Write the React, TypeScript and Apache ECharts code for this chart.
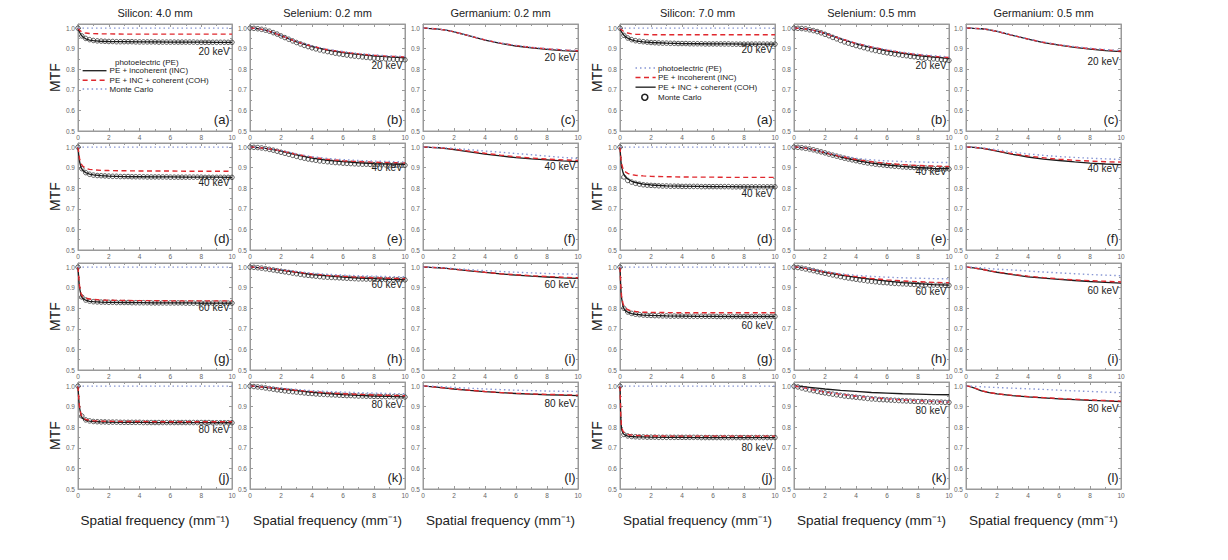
import React, { useEffect, useRef } from "react";
import * as echarts from "echarts";

// ---------- data ----------
const X_LINE = [0, 0.05, 0.1, 0.2, 0.3, 0.5, 0.75, 1, 1.5, 2, 3, 4, 5, 6, 7, 8, 9, 10];
const X_MC = [0, 0.25, 0.5, 0.75, 1, 1.25, 1.5, 1.75, 2, 2.25, 2.5, 2.75, 3, 3.25, 3.5, 3.75, 4, 4.25, 4.5, 4.75, 5, 5.25, 5.5, 5.75, 6, 6.25, 6.5, 6.75, 7, 7.25, 7.5, 7.75, 8, 8.25, 8.5, 8.75, 9, 9.25, 9.5, 9.75, 10];
const FLAT = [1, 1, 1, 1, 1, 1, 1, 1, 1, 1, 1, 1, 1, 1, 1, 1, 1, 1];

const LEFT_TITLES = ["Silicon: 4.0 mm", "Selenium: 0.2 mm", "Germanium: 0.2 mm"];
const RIGHT_TITLES = ["Silicon: 7.0 mm", "Selenium: 0.5 mm", "Germanium: 0.5 mm"];
const ENERGIES = ["20 keV", "40 keV", "60 keV", "80 keV"];
const LETTERS = ["a", "b", "c", "d", "e", "f", "g", "h", "i", "j", "k", "l"];
const Y_TICKS = [0.5, 0.6, 0.7, 0.8, 0.9, 1.0];
const X_TICKS = [0, 2, 4, 6, 8, 10];
const L_EY = [0.885, 0.82, 0.855, 0.83, 0.9, 0.905, 0.805, 0.915, 0.915, 0.79, 0.91, 0.915];
const R_EY = [0.895, 0.82, 0.84, 0.775, 0.88, 0.895, 0.715, 0.88, 0.885, 0.7, 0.88, 0.89];
const LEFT_LEGEND = ["photoelectric (PE)", "PE + incoherent (INC)", "PE + INC + coherent (COH)", "Monte Carlo"];
const RIGHT_LEGEND = ["photoelectric (PE)", "PE + incoherent (INC)", "PE + INC + coherent (COH)", "Monte Carlo"];

// Left group: Silicon 4.0 / Selenium 0.2 / Germanium 0.2
const LA_PE = FLAT;
const LA_INC = [1.0, 0.995, 0.99, 0.984, 0.98, 0.976, 0.974, 0.973, 0.972, 0.972, 0.971, 0.971, 0.971, 0.971, 0.971, 0.971, 0.971, 0.971];
const LA_COH = [1.0, 0.99, 0.98, 0.967, 0.958, 0.948, 0.942, 0.939, 0.936, 0.935, 0.934, 0.933, 0.933, 0.932, 0.932, 0.932, 0.931, 0.931];
const LA_MC = [1.0, 0.962, 0.95, 0.944, 0.94, 0.938, 0.937, 0.936, 0.935, 0.935, 0.934, 0.934, 0.934, 0.934, 0.934, 0.933, 0.933, 0.933, 0.933, 0.933, 0.933, 0.932, 0.932, 0.932, 0.932, 0.932, 0.932, 0.932, 0.932, 0.932, 0.932, 0.931, 0.931, 0.931, 0.931, 0.931, 0.931, 0.931, 0.931, 0.931, 0.931];

const LB_PE = [1.0, 1.0, 1.0, 0.999, 0.999, 0.997, 0.994, 0.99, 0.979, 0.965, 0.935, 0.913, 0.897, 0.886, 0.877, 0.87, 0.865, 0.862];
const LB_INC = [1.0, 1.0, 1.0, 0.999, 0.999, 0.997, 0.994, 0.99, 0.978, 0.964, 0.934, 0.912, 0.895, 0.884, 0.875, 0.868, 0.863, 0.86];
const LB_COH = [1.0, 1.0, 1.0, 0.999, 0.999, 0.997, 0.994, 0.99, 0.978, 0.963, 0.933, 0.91, 0.893, 0.881, 0.872, 0.865, 0.86, 0.856];
const LB_MC = [1.0, 0.999, 0.997, 0.994, 0.99, 0.985, 0.978, 0.971, 0.962, 0.954, 0.946, 0.938, 0.93, 0.923, 0.916, 0.91, 0.904, 0.899, 0.894, 0.89, 0.886, 0.882, 0.878, 0.875, 0.872, 0.869, 0.866, 0.864, 0.862, 0.86, 0.858, 0.856, 0.854, 0.853, 0.852, 0.851, 0.85, 0.849, 0.848, 0.847, 0.846];

const LC_PE = [1.0, 1.0, 1.0, 1.0, 0.999, 0.998, 0.997, 0.995, 0.99, 0.983, 0.963, 0.944, 0.928, 0.916, 0.907, 0.9, 0.895, 0.891];
const LC_INC = [1.0, 1.0, 1.0, 1.0, 0.999, 0.998, 0.997, 0.995, 0.99, 0.982, 0.962, 0.943, 0.927, 0.915, 0.906, 0.899, 0.894, 0.89];
const LC_COH = [1.0, 1.0, 1.0, 1.0, 0.999, 0.998, 0.997, 0.995, 0.99, 0.982, 0.962, 0.942, 0.926, 0.913, 0.904, 0.897, 0.891, 0.887];

const LD_PE = FLAT;
const LD_INC = [1.0, 0.97, 0.945, 0.92, 0.908, 0.897, 0.892, 0.89, 0.887, 0.886, 0.885, 0.884, 0.884, 0.884, 0.883, 0.883, 0.883, 0.883];
const LD_COH = [1.0, 0.96, 0.93, 0.9, 0.888, 0.876, 0.869, 0.865, 0.861, 0.859, 0.857, 0.856, 0.855, 0.855, 0.854, 0.854, 0.854, 0.853];
const LD_MC = [1.0, 0.895, 0.876, 0.868, 0.864, 0.862, 0.861, 0.86, 0.859, 0.858, 0.858, 0.857, 0.857, 0.857, 0.856, 0.856, 0.856, 0.856, 0.855, 0.855, 0.855, 0.855, 0.855, 0.855, 0.854, 0.854, 0.854, 0.854, 0.854, 0.854, 0.854, 0.854, 0.854, 0.853, 0.853, 0.853, 0.853, 0.853, 0.853, 0.853, 0.853];

const LE_PE = [1.0, 1.0, 1.0, 1.0, 0.999, 0.998, 0.996, 0.994, 0.99, 0.983, 0.967, 0.954, 0.945, 0.939, 0.935, 0.932, 0.93, 0.928];
const LE_INC = [1.0, 1.0, 1.0, 1.0, 0.999, 0.998, 0.996, 0.994, 0.989, 0.982, 0.965, 0.951, 0.941, 0.934, 0.93, 0.927, 0.925, 0.923];
const LE_COH = [1.0, 1.0, 1.0, 1.0, 0.999, 0.998, 0.996, 0.994, 0.988, 0.98, 0.962, 0.947, 0.936, 0.929, 0.924, 0.92, 0.918, 0.916];
const LE_MC = [1.0, 0.999, 0.998, 0.996, 0.993, 0.989, 0.985, 0.98, 0.975, 0.97, 0.965, 0.96, 0.955, 0.95, 0.946, 0.942, 0.939, 0.936, 0.933, 0.931, 0.929, 0.927, 0.925, 0.924, 0.922, 0.921, 0.92, 0.919, 0.918, 0.917, 0.917, 0.916, 0.915, 0.915, 0.914, 0.914, 0.913, 0.913, 0.913, 0.912, 0.912];

const LF_PE = [1, 1, 1, 1, 1, 0.999, 0.998, 0.998, 0.996, 0.994, 0.988, 0.981, 0.975, 0.969, 0.963, 0.956, 0.95, 0.945];
const LF_INC = [1, 1, 1, 1, 1, 0.999, 0.998, 0.997, 0.994, 0.99, 0.98, 0.97, 0.961, 0.953, 0.947, 0.942, 0.938, 0.935];
const LF_COH = [1, 1, 1, 1, 1, 0.999, 0.998, 0.997, 0.993, 0.988, 0.977, 0.966, 0.957, 0.949, 0.943, 0.938, 0.933, 0.929];

const LG_PE = FLAT;
const LG_INC = [1.0, 0.95, 0.91, 0.87, 0.858, 0.849, 0.845, 0.843, 0.84, 0.839, 0.838, 0.837, 0.837, 0.836, 0.836, 0.836, 0.836, 0.836];
const LG_COH = [1.0, 0.94, 0.9, 0.86, 0.848, 0.839, 0.834, 0.832, 0.83, 0.829, 0.828, 0.827, 0.826, 0.826, 0.826, 0.825, 0.825, 0.825];
const LG_MC = [1.0, 0.855, 0.84, 0.835, 0.832, 0.831, 0.83, 0.83, 0.829, 0.829, 0.828, 0.828, 0.828, 0.828, 0.827, 0.827, 0.827, 0.827, 0.827, 0.826, 0.826, 0.826, 0.826, 0.826, 0.826, 0.826, 0.826, 0.826, 0.825, 0.825, 0.825, 0.825, 0.825, 0.825, 0.825, 0.825, 0.825, 0.825, 0.825, 0.825, 0.825];

const LH_PE = [1, 1, 1, 1, 0.999, 0.998, 0.997, 0.996, 0.992, 0.988, 0.979, 0.971, 0.965, 0.961, 0.958, 0.956, 0.954, 0.953];
const LH_INC = [1, 1, 1, 1, 0.999, 0.998, 0.997, 0.995, 0.991, 0.986, 0.976, 0.967, 0.96, 0.955, 0.951, 0.948, 0.946, 0.944];
const LH_COH = [1, 1, 1, 1, 0.999, 0.998, 0.997, 0.995, 0.99, 0.985, 0.974, 0.964, 0.957, 0.951, 0.947, 0.944, 0.941, 0.939];
const LH_MC = [1.0, 0.999, 0.997, 0.995, 0.992, 0.989, 0.986, 0.983, 0.98, 0.977, 0.974, 0.971, 0.968, 0.965, 0.962, 0.96, 0.958, 0.956, 0.954, 0.952, 0.951, 0.95, 0.949, 0.948, 0.947, 0.946, 0.945, 0.944, 0.943, 0.943, 0.942, 0.942, 0.941, 0.941, 0.94, 0.94, 0.939, 0.939, 0.939, 0.938, 0.938];

const LI_PE = [1, 1, 1, 1, 1, 0.999, 0.999, 0.998, 0.996, 0.993, 0.988, 0.983, 0.979, 0.975, 0.972, 0.969, 0.967, 0.965];
const LI_INC = [1, 1, 1, 1, 1, 0.999, 0.998, 0.997, 0.994, 0.99, 0.983, 0.975, 0.968, 0.963, 0.958, 0.954, 0.951, 0.948];
const LI_COH = [1, 1, 1, 1, 1, 0.999, 0.998, 0.997, 0.994, 0.99, 0.982, 0.974, 0.967, 0.961, 0.956, 0.952, 0.948, 0.945];

const LJ_PE = FLAT;
const LJ_INC = [1.0, 0.94, 0.9, 0.86, 0.848, 0.838, 0.834, 0.832, 0.83, 0.829, 0.828, 0.828, 0.827, 0.827, 0.827, 0.827, 0.827, 0.827];
const LJ_COH = [1.0, 0.935, 0.895, 0.855, 0.843, 0.834, 0.83, 0.828, 0.826, 0.825, 0.824, 0.824, 0.823, 0.823, 0.823, 0.823, 0.822, 0.822];
const LJ_MC = [1.0, 0.855, 0.836, 0.831, 0.828, 0.827, 0.826, 0.826, 0.825, 0.825, 0.825, 0.824, 0.824, 0.824, 0.824, 0.824, 0.824, 0.823, 0.823, 0.823, 0.823, 0.823, 0.823, 0.823, 0.823, 0.823, 0.823, 0.823, 0.823, 0.823, 0.823, 0.823, 0.823, 0.823, 0.823, 0.822, 0.822, 0.822, 0.822, 0.822, 0.822];

const LK_PE = [1, 1, 1, 1, 0.999, 0.998, 0.997, 0.996, 0.993, 0.99, 0.984, 0.978, 0.974, 0.971, 0.968, 0.966, 0.964, 0.963];
const LK_INC = [1, 1, 1, 1, 0.999, 0.998, 0.996, 0.995, 0.991, 0.987, 0.98, 0.973, 0.967, 0.963, 0.96, 0.957, 0.955, 0.953];
const LK_COH = [1, 1, 1, 1, 0.999, 0.998, 0.996, 0.994, 0.99, 0.986, 0.978, 0.97, 0.964, 0.959, 0.955, 0.952, 0.95, 0.948];
const LK_MC = [1.0, 0.998, 0.996, 0.994, 0.991, 0.988, 0.985, 0.982, 0.98, 0.977, 0.975, 0.973, 0.971, 0.969, 0.967, 0.965, 0.964, 0.962, 0.961, 0.96, 0.959, 0.958, 0.957, 0.956, 0.955, 0.954, 0.954, 0.953, 0.952, 0.952, 0.951, 0.951, 0.95, 0.95, 0.949, 0.949, 0.949, 0.948, 0.948, 0.948, 0.947];

const LL_PE = [1, 1, 1, 1, 1, 0.999, 0.999, 0.998, 0.996, 0.994, 0.99, 0.986, 0.983, 0.98, 0.978, 0.976, 0.975, 0.974];
const LL_INC = [1, 1, 1, 1, 0.999, 0.998, 0.996, 0.994, 0.99, 0.986, 0.98, 0.974, 0.969, 0.965, 0.962, 0.96, 0.958, 0.956];
const LL_COH = [1, 1, 1, 1, 0.999, 0.998, 0.996, 0.994, 0.99, 0.986, 0.979, 0.973, 0.968, 0.964, 0.961, 0.958, 0.956, 0.954];

// Right group: Silicon 7.0 / Selenium 0.5 / Germanium 0.5
const RA_PE = FLAT;
const RA_INC = [1.0, 0.996, 0.992, 0.986, 0.981, 0.976, 0.972, 0.97, 0.969, 0.968, 0.968, 0.968, 0.968, 0.968, 0.968, 0.968, 0.968, 0.968];
const RA_COH = [1.0, 0.99, 0.982, 0.97, 0.962, 0.951, 0.943, 0.938, 0.933, 0.93, 0.927, 0.925, 0.924, 0.923, 0.923, 0.922, 0.922, 0.922];
const RA_MC = [1.0, 0.965, 0.952, 0.944, 0.939, 0.936, 0.934, 0.932, 0.93, 0.929, 0.928, 0.927, 0.927, 0.926, 0.926, 0.925, 0.925, 0.925, 0.924, 0.924, 0.924, 0.924, 0.923, 0.923, 0.923, 0.923, 0.923, 0.923, 0.923, 0.922, 0.922, 0.922, 0.922, 0.922, 0.922, 0.922, 0.922, 0.922, 0.922, 0.922, 0.922];

const RB_PE = [1, 1, 1, 0.999, 0.999, 0.998, 0.996, 0.993, 0.985, 0.975, 0.95, 0.927, 0.909, 0.895, 0.883, 0.873, 0.866, 0.86];
const RB_INC = [1, 1, 1, 0.999, 0.999, 0.998, 0.996, 0.993, 0.985, 0.974, 0.949, 0.926, 0.908, 0.893, 0.881, 0.871, 0.863, 0.857];
const RB_COH = [1, 1, 1, 0.999, 0.999, 0.998, 0.996, 0.993, 0.985, 0.974, 0.948, 0.924, 0.905, 0.89, 0.877, 0.867, 0.859, 0.853];
const RB_MC = [1.0, 0.999, 0.998, 0.996, 0.992, 0.988, 0.983, 0.977, 0.97, 0.963, 0.955, 0.948, 0.94, 0.933, 0.927, 0.921, 0.915, 0.91, 0.905, 0.9, 0.895, 0.891, 0.887, 0.883, 0.88, 0.877, 0.874, 0.871, 0.868, 0.866, 0.863, 0.861, 0.858, 0.856, 0.854, 0.853, 0.851, 0.849, 0.847, 0.845, 0.843];

const RC_PE = [1, 1, 1, 1, 1, 0.999, 0.998, 0.997, 0.992, 0.985, 0.966, 0.948, 0.932, 0.92, 0.91, 0.902, 0.896, 0.891];
const RC_INC = [1, 1, 1, 1, 1, 0.999, 0.998, 0.997, 0.992, 0.984, 0.965, 0.947, 0.931, 0.918, 0.908, 0.9, 0.894, 0.889];
const RC_COH = [1, 1, 1, 1, 1, 0.999, 0.998, 0.997, 0.992, 0.984, 0.965, 0.946, 0.93, 0.917, 0.906, 0.898, 0.891, 0.886];

const RD_PE = FLAT;
const RD_INC = [1.0, 0.95, 0.92, 0.893, 0.882, 0.872, 0.866, 0.863, 0.86, 0.858, 0.856, 0.855, 0.854, 0.854, 0.853, 0.853, 0.853, 0.853];
const RD_COH = [1.0, 0.94, 0.905, 0.875, 0.86, 0.845, 0.834, 0.828, 0.82, 0.816, 0.812, 0.81, 0.809, 0.808, 0.808, 0.807, 0.807, 0.807];
const RD_MC = [1.0, 0.855, 0.838, 0.83, 0.824, 0.82, 0.817, 0.815, 0.814, 0.813, 0.812, 0.811, 0.811, 0.81, 0.81, 0.81, 0.809, 0.809, 0.809, 0.809, 0.809, 0.808, 0.808, 0.808, 0.808, 0.808, 0.808, 0.808, 0.808, 0.807, 0.807, 0.807, 0.807, 0.807, 0.807, 0.807, 0.807, 0.807, 0.807, 0.807, 0.807];

const RE_PE = [1, 1, 1, 1, 0.999, 0.998, 0.995, 0.992, 0.984, 0.975, 0.958, 0.946, 0.938, 0.933, 0.93, 0.928, 0.926, 0.925];
const RE_INC = [1, 1, 1, 1, 0.999, 0.998, 0.995, 0.992, 0.983, 0.973, 0.955, 0.94, 0.929, 0.921, 0.915, 0.911, 0.908, 0.906];
const RE_COH = [1, 1, 1, 1, 0.999, 0.998, 0.995, 0.992, 0.983, 0.972, 0.952, 0.935, 0.922, 0.913, 0.906, 0.901, 0.897, 0.895];
const RE_MC = [1.0, 0.999, 0.997, 0.994, 0.991, 0.987, 0.982, 0.977, 0.972, 0.966, 0.961, 0.956, 0.951, 0.946, 0.942, 0.938, 0.934, 0.93, 0.926, 0.923, 0.92, 0.917, 0.915, 0.913, 0.911, 0.909, 0.907, 0.906, 0.904, 0.903, 0.902, 0.901, 0.9, 0.899, 0.898, 0.897, 0.896, 0.896, 0.895, 0.894, 0.894];

const RF_PE = [1, 1, 1, 1, 1, 0.999, 0.998, 0.997, 0.992, 0.987, 0.976, 0.967, 0.96, 0.954, 0.95, 0.946, 0.943, 0.94];
const RF_INC = [1, 1, 1, 1, 1, 0.999, 0.997, 0.995, 0.989, 0.982, 0.968, 0.957, 0.948, 0.941, 0.936, 0.932, 0.929, 0.927];
const RF_COH = [1, 1, 1, 1, 1, 0.999, 0.997, 0.995, 0.988, 0.98, 0.965, 0.952, 0.942, 0.935, 0.928, 0.922, 0.918, 0.915];

const RG_PE = FLAT;
const RG_INC = [1.0, 0.91, 0.86, 0.82, 0.805, 0.793, 0.787, 0.784, 0.781, 0.78, 0.779, 0.778, 0.778, 0.778, 0.778, 0.778, 0.778, 0.778];
const RG_COH = [1.0, 0.9, 0.85, 0.808, 0.792, 0.781, 0.774, 0.771, 0.767, 0.765, 0.763, 0.762, 0.761, 0.761, 0.76, 0.76, 0.76, 0.76];
const RG_MC = [1.0, 0.8, 0.782, 0.775, 0.771, 0.769, 0.767, 0.766, 0.765, 0.764, 0.764, 0.763, 0.763, 0.762, 0.762, 0.762, 0.762, 0.761, 0.761, 0.761, 0.761, 0.761, 0.761, 0.761, 0.761, 0.76, 0.76, 0.76, 0.76, 0.76, 0.76, 0.76, 0.76, 0.76, 0.76, 0.76, 0.76, 0.76, 0.76, 0.76, 0.76];

const RH_PE = [1, 1, 1, 1, 0.999, 0.998, 0.996, 0.993, 0.986, 0.978, 0.968, 0.96, 0.955, 0.951, 0.948, 0.946, 0.944, 0.943];
const RH_INC = [1, 1, 1, 1, 0.999, 0.997, 0.994, 0.99, 0.983, 0.976, 0.964, 0.954, 0.945, 0.938, 0.933, 0.929, 0.926, 0.924];
const RH_COH = [1, 1, 1, 1, 0.999, 0.997, 0.994, 0.99, 0.982, 0.974, 0.961, 0.95, 0.94, 0.932, 0.925, 0.92, 0.915, 0.912];
const RH_MC = [1.0, 0.998, 0.995, 0.991, 0.987, 0.983, 0.978, 0.974, 0.97, 0.966, 0.962, 0.958, 0.954, 0.95, 0.947, 0.944, 0.941, 0.938, 0.936, 0.933, 0.931, 0.929, 0.927, 0.925, 0.924, 0.922, 0.921, 0.92, 0.919, 0.918, 0.917, 0.916, 0.915, 0.914, 0.914, 0.913, 0.913, 0.912, 0.912, 0.911, 0.911];

const RI_PE = [1, 1, 1, 1, 1, 0.999, 0.998, 0.997, 0.993, 0.99, 0.986, 0.981, 0.976, 0.972, 0.968, 0.964, 0.961, 0.958];
const RI_INC = [1, 1, 1, 0.999, 0.998, 0.996, 0.993, 0.99, 0.982, 0.976, 0.965, 0.956, 0.949, 0.943, 0.938, 0.934, 0.931, 0.928];
const RI_COH = [1, 1, 1, 0.999, 0.998, 0.996, 0.993, 0.99, 0.982, 0.975, 0.963, 0.953, 0.946, 0.94, 0.935, 0.93, 0.926, 0.922];

const RJ_PE = FLAT;
const RJ_INC = [1.0, 0.86, 0.8, 0.78, 0.772, 0.765, 0.762, 0.76, 0.759, 0.758, 0.757, 0.757, 0.757, 0.757, 0.757, 0.757, 0.757, 0.757];
const RJ_COH = [1.0, 0.85, 0.79, 0.77, 0.763, 0.757, 0.755, 0.754, 0.753, 0.752, 0.751, 0.751, 0.75, 0.75, 0.75, 0.75, 0.75, 0.75];
const RJ_MC = [1.0, 0.765, 0.758, 0.755, 0.754, 0.753, 0.753, 0.752, 0.752, 0.752, 0.751, 0.751, 0.751, 0.751, 0.751, 0.751, 0.751, 0.751, 0.751, 0.751, 0.751, 0.75, 0.75, 0.75, 0.75, 0.75, 0.75, 0.75, 0.75, 0.75, 0.75, 0.75, 0.75, 0.75, 0.75, 0.75, 0.75, 0.75, 0.75, 0.75, 0.75];

const RK_PE = [1, 1, 0.999, 0.998, 0.996, 0.993, 0.99, 0.986, 0.979, 0.972, 0.961, 0.952, 0.945, 0.939, 0.934, 0.93, 0.927, 0.924];
const RK_INC = [1, 1, 0.999, 0.998, 0.996, 0.993, 0.99, 0.986, 0.978, 0.971, 0.96, 0.951, 0.944, 0.938, 0.933, 0.929, 0.926, 0.923];
const RK_COH = [1, 1, 1, 0.999, 0.999, 0.998, 0.996, 0.994, 0.99, 0.986, 0.979, 0.974, 0.969, 0.966, 0.963, 0.961, 0.959, 0.958];
const RK_MC = [1.0, 0.996, 0.991, 0.986, 0.982, 0.978, 0.974, 0.97, 0.967, 0.964, 0.961, 0.958, 0.955, 0.952, 0.95, 0.948, 0.946, 0.944, 0.942, 0.94, 0.938, 0.937, 0.935, 0.934, 0.933, 0.932, 0.931, 0.93, 0.929, 0.928, 0.927, 0.926, 0.925, 0.925, 0.924, 0.923, 0.923, 0.922, 0.922, 0.921, 0.921];

const RL_PE = [1, 1, 1, 1, 1, 0.999, 0.998, 0.997, 0.995, 0.993, 0.99, 0.987, 0.984, 0.98, 0.977, 0.974, 0.971, 0.968];
const RL_INC = [1, 1, 1, 0.999, 0.997, 0.992, 0.985, 0.978, 0.969, 0.963, 0.955, 0.949, 0.944, 0.94, 0.936, 0.933, 0.93, 0.927];
const RL_COH = [1, 1, 1, 0.999, 0.997, 0.992, 0.984, 0.977, 0.968, 0.962, 0.954, 0.948, 0.943, 0.938, 0.934, 0.931, 0.928, 0.925];

const LEFT_PANELS = [
  [LA_PE, LA_INC, LA_COH, LA_MC], [LB_PE, LB_INC, LB_COH, LB_MC], [LC_PE, LC_INC, LC_COH, null],
  [LD_PE, LD_INC, LD_COH, LD_MC], [LE_PE, LE_INC, LE_COH, LE_MC], [LF_PE, LF_INC, LF_COH, null],
  [LG_PE, LG_INC, LG_COH, LG_MC], [LH_PE, LH_INC, LH_COH, LH_MC], [LI_PE, LI_INC, LI_COH, null],
  [LJ_PE, LJ_INC, LJ_COH, LJ_MC], [LK_PE, LK_INC, LK_COH, LK_MC], [LL_PE, LL_INC, LL_COH, null],
];
const RIGHT_PANELS = [
  [RA_PE, RA_INC, RA_COH, RA_MC], [RB_PE, RB_INC, RB_COH, RB_MC], [RC_PE, RC_INC, RC_COH, null],
  [RD_PE, RD_INC, RD_COH, RD_MC], [RE_PE, RE_INC, RE_COH, RE_MC], [RF_PE, RF_INC, RF_COH, null],
  [RG_PE, RG_INC, RG_COH, RG_MC], [RH_PE, RH_INC, RH_COH, RH_MC], [RI_PE, RI_INC, RI_COH, null],
  [RJ_PE, RJ_INC, RJ_COH, RJ_MC], [RK_PE, RK_INC, RK_COH, RK_MC], [RL_PE, RL_INC, RL_COH, null],
];

// ---------- layout ----------
const COL_X = [78, 250, 423, 620, 794, 966];
const COL_W = [154, 155, 155, 155, 155, 155];
const ROW_Y = [24, 143, 263, 382];
const ROW_H = 107;
const FONT = '"Liberation Sans", Arial, sans-serif';
const C_PE = "#8796d4";
const C_INC = "#e0282e";
const C_COH = "#1a1a1a";
const C_AX = "#9a9a9a";

export default function App() {
  const ref = useRef<HTMLDivElement>(null);
  useEffect(() => {
    if (!ref.current) return;
    const chart = echarts.init(ref.current, null, { renderer: "svg" });
    const grids: any[] = [];
    const xAxes: any[] = [];
    const yAxes: any[] = [];
    const series: any[] = [];
    const meta: any[] = [];
    const tickCommon = { show: true, inside: true, length: 3, lineStyle: { color: C_AX } };
    const minorCommon = { show: true, splitNumber: 2, length: 2, lineStyle: { color: C_AX } };
    [LEFT_PANELS, RIGHT_PANELS].forEach((group, g) => {
      group.forEach((arrs, k) => {
        const r = Math.floor(k / 3);
        const c = k % 3 + g * 3;
        const gi = grids.length;
        grids.push({ left: COL_X[c], top: ROW_Y[r], width: COL_W[c], height: ROW_H, show: true, borderColor: C_AX, borderWidth: 1 });
        const xBase = { type: "value", gridIndex: gi, min: 0, max: 10, interval: 2, splitLine: { show: false }, axisLine: { show: true, onZero: false, lineStyle: { color: C_AX } }, axisTick: tickCommon, minorTick: minorCommon };
        xAxes.push({ ...xBase, position: "bottom", axisLabel: { fontSize: 6.5, color: "#666", margin: 3, fontFamily: FONT, formatter: (v: number) => (X_TICKS.includes(v) ? String(v) : "") } });
        xAxes.push({ ...xBase, position: "top", axisLabel: { show: false } });
        const yBase = { type: "value", gridIndex: gi, min: 0.5, max: 1.02, interval: 0.1, splitLine: { show: false }, axisLine: { show: true, onZero: false, lineStyle: { color: C_AX } }, axisTick: tickCommon, minorTick: minorCommon };
        yAxes.push({ ...yBase, position: "left", axisLabel: { fontSize: 6.5, color: "#666", margin: 3, fontFamily: FONT, showMaxLabel: false, formatter: (v: number) => { const t = Y_TICKS.find((q) => Math.abs(q - v) < 1e-6); return t === undefined ? "" : t.toFixed(1); } } });
        yAxes.push({ ...yBase, position: "right", axisLabel: { show: false } });
        const xi = gi * 2;
        const yi = gi * 2;
        const [pe, inc, coh, mc] = arrs as any[];
        if (mc) {
          series.push({ type: "scatter", xAxisIndex: xi, yAxisIndex: yi, symbol: "circle", symbolSize: 4.5, z: 2, itemStyle: { color: "rgba(0,0,0,0)", borderColor: "#333", borderWidth: 1 }, data: X_MC.map((x, j) => [x, mc[j]]) });
        }
        series.push({ type: "line", xAxisIndex: xi, yAxisIndex: yi, symbol: "none", z: 3, lineStyle: { color: C_COH, width: 1.3 }, data: X_LINE.map((x, j) => [x, coh[j]]) });
        series.push({ type: "line", xAxisIndex: xi, yAxisIndex: yi, symbol: "none", z: 4, lineStyle: { color: C_INC, width: 1.4, type: [5, 3.5] }, data: X_LINE.map((x, j) => [x, inc[j]]) });
        series.push({ type: "line", xAxisIndex: xi, yAxisIndex: yi, symbol: "none", z: 5, lineStyle: { color: C_PE, width: 1.4, type: [1.5, 3] }, data: X_LINE.map((x, j) => [x, pe[j]]) });
        meta.push({ gi, g, r, c, k, ey: (g === 0 ? L_EY : R_EY)[k] });
      });
    });
    chart.setOption({ animation: false, grid: grids, xAxis: xAxes, yAxis: yAxes, series });

    const graphic: any[] = [];
    const txt = (x: number, y: number, text: string, size: number, align = "left", extra: any = {}) => ({
      type: "text", x, y, silent: true, z: 20, ...extra,
      style: { text, fill: "#222", fontSize: size, fontFamily: FONT, align, verticalAlign: "middle" },
    });
    meta.forEach((m) => {
      const pe = chart.convertToPixel({ gridIndex: m.gi } as any, [9.85, m.ey]) as number[];
      graphic.push(txt(pe[0], pe[1], ENERGIES[m.r], 10, "right"));
      const pl = chart.convertToPixel({ gridIndex: m.gi } as any, [9.85, 0.555]) as number[];
      graphic.push(txt(pl[0], pl[1], "(" + LETTERS[m.k] + ")", 13, "right"));
    });
    // column titles & axis titles
    for (let c = 0; c < 6; c++) {
      const cx = COL_X[c] + COL_W[c] / 2;
      graphic.push(txt(cx, 13, (c < 3 ? LEFT_TITLES : RIGHT_TITLES)[c % 3], 11, "center"));
      graphic.push(txt(cx, ROW_Y[3] + ROW_H + 31, "Spatial frequency (mm⁻¹)", 13.5, "center"));
    }
    for (let r = 0; r < 4; r++) {
      [0, 3].forEach((c) => {
        const x = COL_X[c] - 23;
        graphic.push(txt(x, ROW_Y[r] + ROW_H / 2, "MTF", 14, "center", { rotation: Math.PI / 2 }));
      });
    }
    // legends
    const P = (gi: number, x: number, y: number) => chart.convertToPixel({ gridIndex: gi } as any, [x, y]) as number[];
    const lRows = [0.833, 0.793, 0.747, 0.704];
    LEFT_LEGEND.forEach((t, i) => {
      const a = P(0, 0.3, lRows[i]);
      const b = P(0, 1.85, lRows[i]);
      const tx = P(0, i === 0 ? 2.4 : 2.05, lRows[i]);
      graphic.push(txt(tx[0], tx[1], t, 8, "left"));
      if (i === 1) graphic.push({ type: "line", z: 20, shape: { x1: a[0], y1: a[1], x2: b[0], y2: b[1] }, style: { stroke: C_COH, lineWidth: 1.3 } });
      if (i === 2) graphic.push({ type: "line", z: 20, shape: { x1: a[0], y1: a[1], x2: b[0], y2: b[1] }, style: { stroke: C_INC, lineWidth: 1.4, lineDash: [5, 3.5] } });
      if (i === 3) graphic.push({ type: "line", z: 20, shape: { x1: a[0], y1: a[1], x2: b[0], y2: b[1] }, style: { stroke: C_PE, lineWidth: 1.4, lineDash: [1.5, 3] } });
    });
    const rgi = 12;
    const rRows = [0.806, 0.76, 0.713, 0.664];
    RIGHT_LEGEND.forEach((t, i) => {
      const a = P(rgi, 1.0, rRows[i]);
      const b = P(rgi, 2.3, rRows[i]);
      const tx = P(rgi, 2.45, rRows[i]);
      graphic.push(txt(tx[0], tx[1], t, 8, "left"));
      if (i === 0) graphic.push({ type: "line", z: 20, shape: { x1: a[0], y1: a[1], x2: b[0], y2: b[1] }, style: { stroke: C_PE, lineWidth: 1.4, lineDash: [1.5, 3] } });
      if (i === 1) graphic.push({ type: "line", z: 20, shape: { x1: a[0], y1: a[1], x2: b[0], y2: b[1] }, style: { stroke: C_INC, lineWidth: 1.4, lineDash: [5, 3.5] } });
      if (i === 2) graphic.push({ type: "line", z: 20, shape: { x1: a[0], y1: a[1], x2: b[0], y2: b[1] }, style: { stroke: C_COH, lineWidth: 1.3 } });
      if (i === 3) {
        const cc = P(rgi, 1.6, rRows[i]);
        graphic.push({ type: "circle", z: 20, shape: { cx: cc[0], cy: cc[1], r: 3 }, style: { fill: "none", stroke: "#222", lineWidth: 1.6 } });
      }
    });
    chart.setOption({ graphic });
    return () => chart.dispose();
  }, []);
  return <div ref={ref} style={{ position: "fixed", left: 0, top: 0, width: 1228, height: 560, background: "#fff" }} />;
}
